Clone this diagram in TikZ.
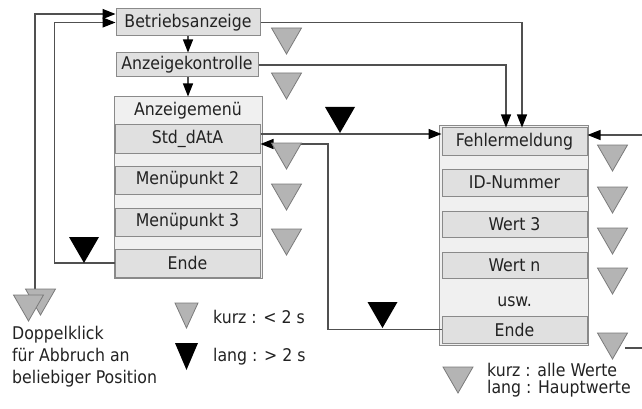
\documentclass[tikz,border=0pt]{standalone}
\usepackage{fontspec}
\setmainfont{DejaVu Sans Condensed}
\usetikzlibrary{arrows.meta,calc}
\definecolor{itemfill}{HTML}{E0E0E0}
\definecolor{outerfill}{HTML}{F0F0F0}
\definecolor{boxline}{HTML}{8A8A8A}
\definecolor{trifill}{HTML}{B4B4B4}
\definecolor{triline}{HTML}{7A7A7A}
\definecolor{conn}{HTML}{505050}
\definecolor{txt}{HTML}{222222}
\tikzset{
  lbl/.style={font=\fontsize{17.5}{20}\selectfont, text=txt},
  item/.style={lbl, draw=boxline, fill=itemfill, line width=1pt, inner sep=0pt, minimum width=145pt, minimum height=27pt},
  outerbox/.style={draw=boxline, fill=outerfill, line width=1pt, inner sep=0pt},
  wire/.style={draw=conn, line width=1.1pt},
  arr/.style={wire, -{Triangle[length=13pt,width=10pt,black]}},
  gtri/.pic={\draw[fill=trifill, draw=triline, line width=0.8pt] (-15,0) -- (15,0) -- (0,26) -- cycle;},
  btri/.pic={\fill[black] (-15,0) -- (15,0) -- (0,26) -- cycle;},
  stri/.pic={\draw[fill=trifill, draw=triline, line width=0.8pt] (-11.5,0) -- (11.5,0) -- (0,25) -- cycle;},
  sbtri/.pic={\fill[black] (-11.5,0) -- (11.5,0) -- (0,27) -- cycle;}
}
\begin{document}
\begin{tikzpicture}[x=1pt,y=-1pt]
\useasboundingbox (0,0) rectangle (642,409);
% left column
\node[item, minimum width=144pt] (ba) at (188,22.5) {Betriebsanzeige};
\node[item, minimum width=142pt, minimum height=24pt] (ak) at (187,65) {Anzeigekontrolle};
\node[outerbox, minimum width=148pt, minimum height=181pt] (menu) at (188,187.5) {};
\node[lbl] (mt) at (188,111) {Anzeigemenü};
\node[item, minimum height=28pt] (std) at (187.5,139) {Std\_dAtA};
\node[item, minimum height=28pt] (m2) at (187.5,180) {Menüpunkt 2};
\node[item, minimum height=28pt] (m3) at (187.5,222) {Menüpunkt 3};
\node[item, minimum height=28pt] (endL) at (187.5,263) {Ende};
% right column
\node[outerbox, minimum width=149pt, minimum height=219pt] (fehl) at (513.5,235.5) {};
\node[item] (fm) at (514.5,141.5) {Fehlermeldung};
\node[item] (id) at (514.5,182.5) {ID-Nummer};
\node[item, minimum height=26pt] (w3) at (514.5,224) {Wert 3};
\node[item, minimum height=26pt] (wn) at (514.5,265) {Wert n};
\node[lbl] (usw) at (514.5,302) {usw.};
\node[item] (endR) at (514.5,329.5) {Ende};
% connectors
\draw[arr] (ba.south) -- (ba.south |- ak.north);
\draw[arr] (ak.south -| ba.south) -- (ba.south |- menu.north);
\coordinate (dk) at (35,289);
\draw[arr] (dk) |- ([yshift=8.5pt]ba.west);
\draw[arr] (endL.west) -- ++(-60,0) |- (ba.west);
\draw[arr] (ba.east) -| ([xshift=7.5pt]fm.north);
\draw[arr] (ak.east) -| ([xshift=-8.5pt]fm.north);
\draw[arr] ([yshift=5pt]std.east) -- ([yshift=5pt]std.east -| fm.west);
\coordinate (r1) at (328,144);
\draw[arr] (endR.west) -| (r1) -- (r1 -| std.east);
\coordinate (re1) at (642,135);
\draw[arr] (re1) -- (re1 -| fm.east);
\coordinate (re2) at (625,348);
\coordinate (re3) at (642,348);
\draw[wire] (re2) -- (re3);
% long-press triangles
\pic at (84,237) {btri};
\pic at (340,107) {btri};
\pic at (382.5,302) {btri};
% short-press triangles, left
\foreach \yy in {28,73,143,184,229} \pic at (286.5,\yy) {gtri};
% short-press triangles, right
\foreach \yy in {145,187,228,268,333} \pic at (612.5,\yy) {gtri};
% double click
\pic at (40.5,289) {gtri};
\pic at (28.5,295) {gtri};
\node[lbl, anchor=north west, align=left, inner sep=0pt, font=\fontsize{17.5}{22}\selectfont] (dtxt) at (12,326) {Doppelklick\\für Abbruch an\\beliebiger Position};
% legend
\pic at (186.5,303) {stri};
\pic at (186.5,343) {sbtri};
\node[lbl, anchor=west, inner sep=0pt] (lk) at (213,317) {kurz : < 2 s};
\node[lbl, anchor=west, inner sep=0pt] (ll) at (213,357) {lang : > 2 s};
\pic at (458,367) {gtri};
\node[lbl, anchor=west, inner sep=0pt, align=left, font=\fontsize{17.5}{16.5}\selectfont] (lr) at (487,380) {kurz : alle Werte\\lang : Hauptwerte};
\end{tikzpicture}
\end{document}
